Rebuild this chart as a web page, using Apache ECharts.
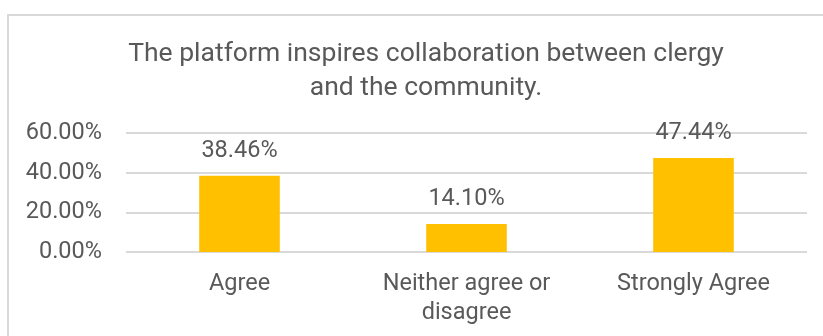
<!DOCTYPE html>
<html>
<head>
<meta charset="utf-8">
<script src="https://cdn.jsdelivr.net/npm/echarts@6/dist/echarts.min.js"></script>
<style>
  html, body { margin: 0; padding: 0; background: #fff; }
  #chart { width: 823px; height: 336px; }
</style>
</head>
<body>
<div id="chart"></div>
<script>
// Survey responses, share of respondents (%)
const categories = ['Agree', 'Neither agree or\ndisagree', 'Strongly Agree'];
const shares = [38.46, 14.10, 47.44];
const titleText = 'The platform inspires collaboration between clergy\nand the community.';

const textColor = '#595959';
const font = 'Roboto';

const chart = echarts.init(document.getElementById('chart'), null, { renderer: 'canvas' });
chart.setOption({
  backgroundColor: '#ffffff',
  animation: false,
  title: {
    text: titleText,
    left: 421,
    top: 32,
    textAlign: 'center',
    textStyle: {
      fontFamily: font,
      fontSize: 26.5,
      fontWeight: 'normal',
      color: textColor,
      lineHeight: 34
    }
  },
  graphic: [{
    type: 'rect',
    shape: { x: 8, y: 15, width: 900, height: 400 },
    style: { fill: 'none', stroke: '#d9d9d9', lineWidth: 2 },
    silent: true,
    z: -1
  }],
  grid: { left: 126, right: 16, top: 133, bottom: 84, containLabel: false },
  xAxis: {
    type: 'category',
    data: categories,
    axisLine: { show: false },
    axisTick: { show: false },
    axisLabel: {
      fontFamily: font,
      fontSize: 23.5,
      color: textColor,
      lineHeight: 29,
      margin: 18,
      interval: 0
    }
  },
  yAxis: {
    type: 'value',
    min: 0,
    max: 60,
    interval: 20,
    axisLine: { show: false },
    axisTick: { show: false },
    splitLine: { lineStyle: { color: '#d9d9d9', width: 2 } },
    axisLabel: {
      fontFamily: font,
      fontSize: 23.5,
      color: textColor,
      margin: 24,
      formatter: v => v.toFixed(2) + '%'
    }
  },
  series: [{
    type: 'bar',
    data: shares,
    barWidth: '35.5%',
    itemStyle: { color: '#ffc000' },
    label: {
      show: true,
      position: 'top',
      distance: 13,
      fontFamily: font,
      fontSize: 23.5,
      color: textColor,
      formatter: p => p.value.toFixed(2) + '%'
    }
  }]
});
</script>
</body>
</html>
